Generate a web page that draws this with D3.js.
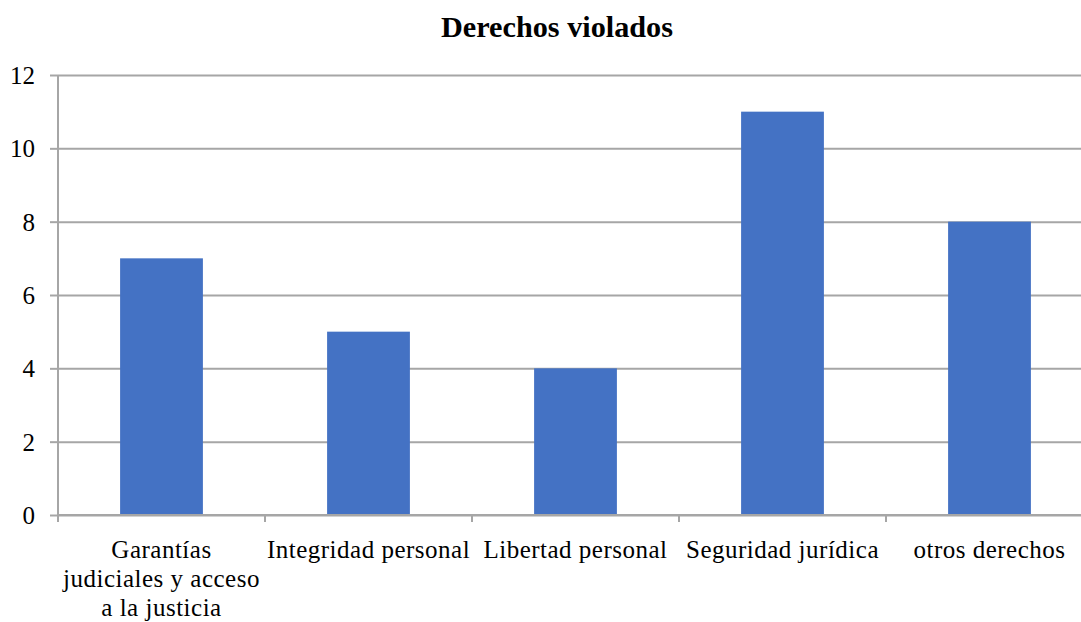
<!DOCTYPE html>
<html>
<head>
<meta charset="utf-8">
<script src="https://cdn.jsdelivr.net/npm/d3@7"></script>
<style>
  body { margin: 0; background: #fff; }
  svg text { font-family: "Liberation Serif", "Times New Roman", serif; fill: #000; }
</style>
</head>
<body>
<svg id="svg"></svg>
<script>
const categories = [
  ["Garantías", "judiciales y acceso", "a la justicia"],
  ["Integridad personal"],
  ["Libertad personal"],
  ["Seguridad jurídica"],
  ["otros derechos"]
]
const values = [7, 5, 4, 11, 8]
const yTicks = [0, 2, 4, 6, 8, 10, 12]

const width = 1081, height = 622
const margin = { top: 75, right: -12, bottom: 107, left: 58 }
const gridColor = "#a6a6a6"

const svg = d3.select("#svg").attr("width", width).attr("height", height)

const x = d3.scaleBand()
  .domain(d3.range(categories.length))
  .range([margin.left, width - margin.right])
  .paddingInner(0.6)
  .paddingOuter(0.3)

const xEdge = d3.scaleLinear()
  .domain([0, categories.length])
  .range([margin.left, width - margin.right])

const y = d3.scaleLinear()
  .domain([0, 12])
  .range([height - margin.bottom, margin.top])

// gridlines + y labels
const yAxis = svg.append("g")
  .attr("transform", `translate(${margin.left},0)`)
  .call(d3.axisLeft(y).tickValues(yTicks).tickSize(8).tickPadding(15)
    .tickFormat(d3.format("d")))
yAxis.select(".domain").remove()
yAxis.selectAll("line").attr("stroke", gridColor).attr("stroke-width", 2)
yAxis.selectAll(".tick").append("line")
  .attr("x1", 0).attr("x2", width - margin.left)
  .attr("stroke", gridColor).attr("stroke-width", 2)
yAxis.selectAll("text").attr("font-size", 25).attr("dy", "0.34em")

// bars
svg.append("g")
  .selectAll("rect")
  .data(values)
  .enter()
  .append("rect")
  .attr("x", (d, i) => x(i))
  .attr("y", (d) => y(d))
  .attr("width", x.bandwidth())
  .attr("height", (d) => y(0) - y(d))
  .attr("fill", "#4472C4")

// vertical axis line
svg.append("line")
  .attr("x1", margin.left).attr("x2", margin.left)
  .attr("y1", y(12)).attr("y2", y(0) + 7)
  .attr("stroke", gridColor).attr("stroke-width", 2)

// x axis line and ticks
svg.append("line")
  .attr("x1", margin.left).attr("x2", width)
  .attr("y1", y(0)).attr("y2", y(0))
  .attr("stroke", gridColor).attr("stroke-width", 2)

svg.append("g")
  .selectAll("line")
  .data(d3.range(categories.length + 1))
  .enter()
  .append("line")
  .attr("x1", (d) => xEdge(d)).attr("x2", (d) => xEdge(d))
  .attr("y1", y(0)).attr("y2", y(0) + 7)
  .attr("stroke", gridColor).attr("stroke-width", 2)

// category labels
const labels = svg.append("g")
  .selectAll("text")
  .data(categories)
  .enter()
  .append("text")
  .attr("text-anchor", "middle")
  .attr("font-size", 25)
  .attr("letter-spacing", 0.5)
  .attr("x", (d, i) => x(i) + x.bandwidth() / 2)
  .attr("y", 558)

labels.selectAll("tspan")
  .data((d) => d)
  .enter()
  .append("tspan")
  .attr("x", function () { return d3.select(this.parentNode).attr("x") })
  .attr("dy", (d, i) => i === 0 ? 0 : 29)
  .text((d) => d)

// title
svg.append("text")
  .attr("x", 557)
  .attr("y", 37)
  .attr("text-anchor", "middle")
  .attr("font-size", 29)
  .attr("font-weight", "bold")
  .attr("textLength", 232)
  .attr("lengthAdjust", "spacingAndGlyphs")
  .text("Derechos violados")
</script>
</body>
</html>
